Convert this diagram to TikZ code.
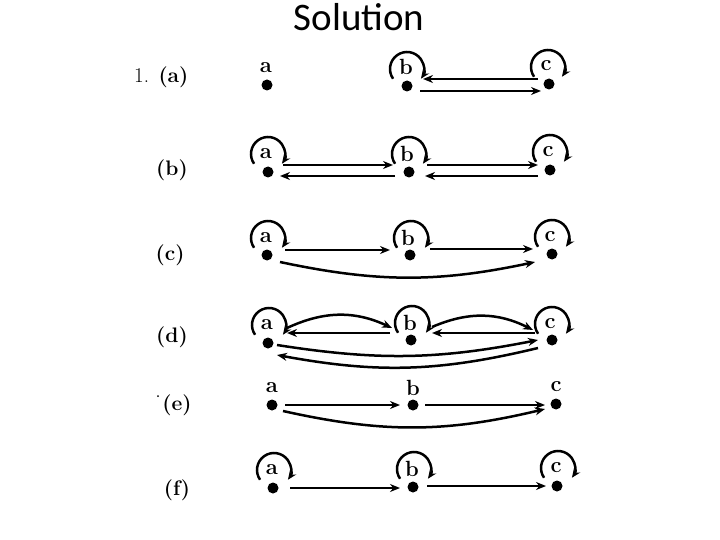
\documentclass[tikz,border=0pt]{standalone}
\usepackage{fontspec}
\newfontfamily\titlefont{Carlito}
\usetikzlibrary{arrows.meta}
\tikzset{
  dot/.style={circle,fill,inner sep=0pt,minimum size=11pt},
  lbl/.style={font=\bfseries\fontsize{22}{25}\selectfont,inner sep=0pt},
  part/.style={font=\bfseries\fontsize{21}{25}\selectfont,inner sep=0pt},
  arr/.style={line width=2.5pt,-{Stealth[length=10pt,width=8pt]}},
  lp/.style={line width=2.5pt,-{Stealth[length=9pt,width=7.5pt]}}
}
\newcommand\myloop[1]{\draw[lp] ([shift={(215:17)}]#1) arc[start angle=215,end angle=-35,radius=17];}
\begin{document}
\begin{tikzpicture}[x=1pt,y=1pt]
\useasboundingbox (0,0) rectangle (720,-540);
\node[font=\titlefont\fontsize{39}{44}\selectfont,anchor=base,inner sep=0pt] (title) at (359,-31) {Solution};
% left labels
\node[part,anchor=west] (pa) at (134,-77) {\mdseries 1.\hspace{0.45em}\bfseries (a)};
\node[part] (pb) at (172,-170) {(b)};
\node[part] (pc) at (170,-255) {(c)};
\node[part] (pd) at (172,-337) {(d)};
\node[part] (pe) at (177,-405) {(e)};
\fill (158,-396) circle (1);
\node[part] (pf) at (177,-490) {(f)};
% row a
\node[dot] (A1) at (267,-85) {}; \node[lbl] (A1l) at (266,-68) {a};
\node[dot] (B1) at (407,-86) {}; \node[lbl] (B1l) at (406,-67) {b};
\node[dot] (C1) at (549,-84) {}; \node[lbl] (C1l) at (546,-66) {c};
\myloop{407,-69} \myloop{548,-67}
\draw[arr] ([shift={(-11,5)}]C1.center) -- ([shift={(16,7)}]B1.center);
\draw[arr] ([shift={(13,-5)}]B1.center) -- ([shift={(-8,-7)}]C1.center);
% row b
\node[dot] (A2) at (268,-172) {}; \node[lbl] (A2l) at (266,-154) {a};
\node[dot] (B2) at (409,-172) {}; \node[lbl] (B2l) at (407,-154) {b};
\node[dot] (C2) at (550,-170) {}; \node[lbl] (C2l) at (548,-152) {c};
\myloop{268,-154} \myloop{409,-154} \myloop{550,-152}
\draw[arr] ([shift={(15,7)}]A2.center) -- ([shift={(-16,7)}]B2.center);
\draw[arr] ([shift={(-14,-4)}]B2.center) -- ([shift={(12,-4)}]A2.center);
\draw[arr] ([shift={(18,7)}]B2.center) -- ([shift={(-12,5)}]C2.center);
\draw[arr] ([shift={(-12,-6)}]C2.center) -- ([shift={(16,-4)}]B2.center);
% row c
\node[dot] (A3) at (267,-255) {}; \node[lbl] (A3l) at (266,-238) {a};
\node[dot] (B3) at (410,-255) {}; \node[lbl] (B3l) at (408,-238) {b};
\node[dot] (C3) at (552,-254) {}; \node[lbl] (C3l) at (550,-237) {c};
\myloop{268,-238} \myloop{411,-238} \myloop{552,-237}
\draw[arr] ([shift={(18,5)}]A3.center) -- ([shift={(-20,5)}]B3.center);
\draw[arr] ([shift={(20,6)}]B3.center) -- ([shift={(-19,5)}]C3.center);
\draw[arr] ([shift={(13,-7)}]A3.center) to[bend right=12] ([shift={(-17,-8)}]C3.center);
% row d
\node[dot] (A4) at (268,-343) {}; \node[lbl] (A4l) at (267,-325) {a};
\node[dot] (B4) at (411,-340) {}; \node[lbl] (B4l) at (410,-323) {b};
\node[dot] (C4) at (552,-340) {}; \node[lbl] (C4l) at (550,-324) {c};
\myloop{269,-325} \myloop{412,-323} \myloop{552,-324}
\draw[arr] ([shift={(19,15)}]A4.center) to[bend left=25] ([shift={(-19,12)}]B4.center);
\draw[arr] ([shift={(-21,7)}]B4.center) -- ([shift={(19,10)}]A4.center);
\draw[arr] ([shift={(21,13)}]B4.center) to[bend left=25] ([shift={(-19,10)}]C4.center);
\draw[arr] ([shift={(-17,7)}]C4.center) -- ([shift={(21,7)}]B4.center);
\draw[arr] ([shift={(9,-2)}]A4.center) to[bend right=10] ([shift={(-14,0)}]C4.center);
\draw[arr] ([shift={(-14,-8)}]C4.center) to[bend left=12] ([shift={(9,-12)}]A4.center);
% row e
\node[dot] (A5) at (272,-405) {}; \node[lbl] (A5l) at (272,-388) {a};
\node[dot] (B5) at (413,-405) {}; \node[lbl] (B5l) at (413,-388) {b};
\node[dot] (C5) at (556,-404) {}; \node[lbl] (C5l) at (556,-387) {c};
\draw[arr] ([shift={(13,0)}]A5.center) -- ([shift={(-13,0)}]B5.center);
\draw[arr] ([shift={(12,0)}]B5.center) -- ([shift={(-11,-1)}]C5.center);
\draw[arr] ([shift={(11,-6)}]A5.center) to[bend right=13] ([shift={(-11,-5)}]C5.center);
% row f
\node[dot] (A6) at (273,-488) {}; \node[lbl] (A6l) at (272,-470) {a};
\node[dot] (B6) at (413,-487) {}; \node[lbl] (B6l) at (412,-469) {b};
\node[dot] (C6) at (557,-486) {}; \node[lbl] (C6l) at (556,-468) {c};
\myloop{274,-470} \myloop{414,-469} \myloop{558,-468}
\draw[arr] ([shift={(17,0)}]A6.center) -- ([shift={(-13,-1)}]B6.center);
\draw[arr] ([shift={(14,1)}]B6.center) -- ([shift={(-11,0)}]C6.center);
\end{tikzpicture}
\end{document}
